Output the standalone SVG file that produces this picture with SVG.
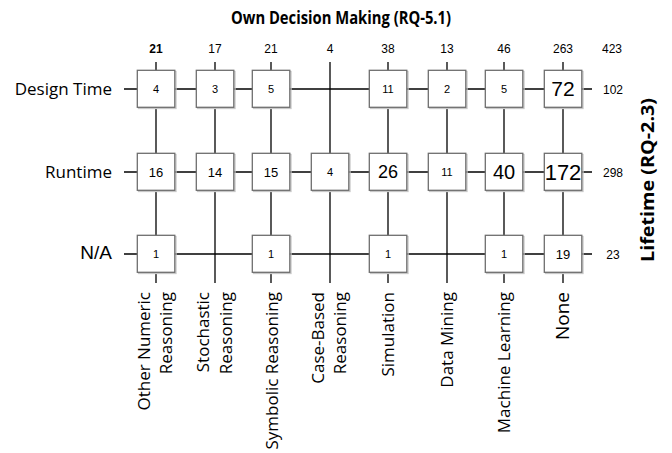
<svg xmlns="http://www.w3.org/2000/svg" width="672" height="453" viewBox="0 0 672 453">
<style>
.lbl{font-family:"Open Sans","DejaVu Sans",sans-serif;font-size:17px;fill:#000}
.ttl{font-family:"Open Sans","DejaVu Sans",sans-serif;font-size:17px;font-weight:bold;fill:#000}
.num{font-family:"Liberation Sans",Arial,sans-serif;fill:#000;text-anchor:middle}
.tot{font-family:"Liberation Sans",Arial,sans-serif;font-size:12px;fill:#000;text-anchor:middle}
.ln{stroke:#000;stroke-width:1.3;fill:none}
.box{fill:#fff;stroke:#6e6e6e;stroke-width:1.3}
.sh{fill:none;stroke:#c8c8c8;stroke-width:1.3}
</style>
<defs>
<g id="b">
<rect class="sh" x="-17.5" y="-17.5" width="37.5" height="37"/>
<rect class="box" x="-18.7" y="-18.7" width="37.5" height="37"/>
</g>
</defs>

<text class="ttl" x="231" y="24" textLength="220" lengthAdjust="spacingAndGlyphs">Own Decision Making (RQ-5.1)</text>
<text class="ttl" transform="translate(654,262) rotate(-90)" textLength="164" lengthAdjust="spacingAndGlyphs">Lifetime (RQ-2.3)</text>

<g id="connectors">
<line class="ln" x1="124" y1="89" x2="592" y2="89"/>
<line class="ln" x1="124" y1="172" x2="592" y2="172"/>
<line class="ln" x1="124" y1="254" x2="592" y2="254"/>
<line class="ln" x1="156" y1="62" x2="156" y2="283"/>
<line class="ln" x1="215" y1="62" x2="215" y2="283"/>
<line class="ln" x1="271" y1="62" x2="271" y2="283"/>
<line class="ln" x1="330" y1="62" x2="330" y2="283"/>
<line class="ln" x1="388" y1="62" x2="388" y2="283"/>
<line class="ln" x1="447" y1="62" x2="447" y2="283"/>
<line class="ln" x1="504" y1="62" x2="504" y2="283"/>
<line class="ln" x1="563" y1="62" x2="563" y2="283"/>
</g>

<g id="row-labels">
<text class="lbl" x="112" y="95" text-anchor="end">Design Time</text>
<text class="lbl" x="112" y="178" text-anchor="end">Runtime</text>
<text x="112" y="258.5" text-anchor="end" style="font-family:'Liberation Sans',Arial,sans-serif;font-size:19px">N/A</text>
</g>

<g id="col-totals">
<text class="tot" x="156" y="53" font-weight="bold">21</text>
<text class="tot" x="215" y="53">17</text>
<text class="tot" x="271" y="53">21</text>
<text class="tot" x="330" y="53">4</text>
<text class="tot" x="388" y="53">38</text>
<text class="tot" x="447" y="53">13</text>
<text class="tot" x="504" y="53">46</text>
<text class="tot" x="563" y="53">263</text>
<text class="tot" x="612" y="53">423</text>
</g>

<g id="row-totals">
<text class="tot" x="613" y="94">102</text>
<text class="tot" x="613" y="177">298</text>
<text class="tot" x="613" y="259">23</text>
</g>

<g id="col-labels">
<text class="lbl" transform="translate(150,292) rotate(-90)" text-anchor="end">Other Numeric</text>
<text class="lbl" transform="translate(172,292) rotate(-90)" text-anchor="end">Reasoning</text>
<text class="lbl" transform="translate(209,292) rotate(-90)" text-anchor="end">Stochastic</text>
<text class="lbl" transform="translate(232,292) rotate(-90)" text-anchor="end">Reasoning</text>
<text class="lbl" transform="translate(278,292) rotate(-90)" text-anchor="end">Symbolic Reasoning</text>
<text class="lbl" transform="translate(324,292) rotate(-90)" text-anchor="end">Case-Based</text>
<text class="lbl" transform="translate(346,292) rotate(-90)" text-anchor="end">Reasoning</text>
<text class="lbl" transform="translate(394,292) rotate(-90)" text-anchor="end">Simulation</text>
<text class="lbl" transform="translate(453,292) rotate(-90)" text-anchor="end">Data Mining</text>
<text class="lbl" transform="translate(510,292) rotate(-90)" text-anchor="end">Machine Learning</text>
<text class="lbl" transform="translate(569,292) rotate(-90)" text-anchor="end" style="font-size:19px">None</text>
</g>

<!-- Design Time row -->
<g id="n-dt-onr" transform="translate(156,89)"><use href="#b"/><text class="num" y="4" font-size="11">4</text></g>
<g id="n-dt-sto" transform="translate(215,89)"><use href="#b"/><text class="num" y="4" font-size="11">3</text></g>
<g id="n-dt-sym" transform="translate(271,89)"><use href="#b"/><text class="num" y="4" font-size="11">5</text></g>
<g id="n-dt-sim" transform="translate(388,89)"><use href="#b"/><text class="num" y="4" font-size="11">11</text></g>
<g id="n-dt-dm" transform="translate(447,89)"><use href="#b"/><text class="num" y="4" font-size="11">2</text></g>
<g id="n-dt-ml" transform="translate(504,89)"><use href="#b"/><text class="num" y="4" font-size="11">5</text></g>
<g id="n-dt-none" transform="translate(563,89)"><use href="#b"/><text class="num" y="7" font-size="21">72</text></g>

<!-- Runtime row -->
<g id="n-rt-onr" transform="translate(156,172)"><use href="#b"/><text class="num" y="4.5" font-size="13">16</text></g>
<g id="n-rt-sto" transform="translate(215,172)"><use href="#b"/><text class="num" y="4.5" font-size="13">14</text></g>
<g id="n-rt-sym" transform="translate(271,172)"><use href="#b"/><text class="num" y="4.5" font-size="13">15</text></g>
<g id="n-rt-cbr" transform="translate(330,172)"><use href="#b"/><text class="num" y="4" font-size="11">4</text></g>
<g id="n-rt-sim" transform="translate(388,172)"><use href="#b"/><text class="num" y="6" font-size="18">26</text></g>
<g id="n-rt-dm" transform="translate(447,172)"><use href="#b"/><text class="num" y="4" font-size="11">11</text></g>
<g id="n-rt-ml" transform="translate(504,172)"><use href="#b"/><text class="num" y="7" font-size="20">40</text></g>
<g id="n-rt-none" transform="translate(563,172)"><use href="#b"/><text class="num" y="7.5" font-size="22">172</text></g>

<!-- N/A row -->
<g id="n-na-onr" transform="translate(156,254)"><use href="#b"/><text class="num" y="4" font-size="11">1</text></g>
<g id="n-na-sym" transform="translate(271,254)"><use href="#b"/><text class="num" y="4" font-size="11">1</text></g>
<g id="n-na-sim" transform="translate(388,254)"><use href="#b"/><text class="num" y="4" font-size="11">1</text></g>
<g id="n-na-ml" transform="translate(504,254)"><use href="#b"/><text class="num" y="4" font-size="11">1</text></g>
<g id="n-na-none" transform="translate(563,254)"><use href="#b"/><text class="num" y="4.5" font-size="13">19</text></g>
</svg>
